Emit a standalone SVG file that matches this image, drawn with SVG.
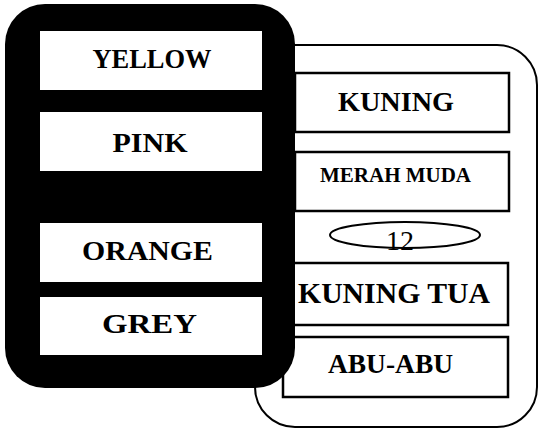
<svg xmlns="http://www.w3.org/2000/svg" width="539" height="429" viewBox="0 0 539 429">
<style>
.t{font-family:"Liberation Serif","Times New Roman",serif;font-weight:bold;fill:#000;text-anchor:middle}
.box{fill:#fff;stroke:#000;stroke-width:2.5}
.wbox{fill:#fff;stroke:none}
</style>
<rect width="539" height="429" fill="#fff"/>
<g id="panel-right">
<rect x="255" y="45" width="282" height="382" rx="40" ry="40" fill="#fff" stroke="#000" stroke-width="2"/>
</g>
<g id="kuning"><rect class="box" x="295" y="73" width="214" height="59"/><text class="t" x="396" y="111" font-size="28" textLength="116" lengthAdjust="spacingAndGlyphs">KUNING</text></g>
<g id="merah-muda"><rect class="box" x="295" y="152" width="214" height="59"/><text class="t" x="395.5" y="182" font-size="21" textLength="151" lengthAdjust="spacingAndGlyphs">MERAH MUDA</text></g>
<g id="num-12"><ellipse cx="405" cy="235" rx="75" ry="13" fill="#fff" stroke="#000" stroke-width="2"/><text x="400" y="250" font-family="Liberation Serif, Times New Roman, serif" font-size="28" text-anchor="middle">12</text></g>
<g id="kuning-tua"><rect class="box" x="293" y="263" width="215" height="62"/><text class="t" x="394" y="303" font-size="30" textLength="192" lengthAdjust="spacingAndGlyphs">KUNING TUA</text></g>
<g id="abu-abu"><rect class="box" x="283" y="337" width="225" height="60"/><text class="t" x="390.5" y="373" font-size="28" textLength="125" lengthAdjust="spacingAndGlyphs">ABU-ABU</text></g>
<g id="panel-left">
<rect x="5" y="4" width="290" height="384" rx="40" ry="40" fill="#000"/>
</g>
<g id="yellow"><rect class="wbox" x="40" y="31" width="222" height="59"/><text class="t" x="152" y="68" font-size="27" textLength="119" lengthAdjust="spacingAndGlyphs">YELLOW</text></g>
<g id="pink"><rect class="wbox" x="40" y="112" width="222" height="59"/><text class="t" x="150" y="152" font-size="28" textLength="75" lengthAdjust="spacingAndGlyphs">PINK</text></g>
<g id="orange"><rect class="wbox" x="40" y="223" width="222" height="59"/><text class="t" x="147.5" y="260" font-size="28" textLength="131" lengthAdjust="spacingAndGlyphs">ORANGE</text></g>
<g id="grey"><rect class="wbox" x="40" y="297" width="222" height="58"/><text class="t" x="149.5" y="333" font-size="28" textLength="95" lengthAdjust="spacingAndGlyphs">GREY</text></g>
<g id="connectors"></g>
</svg>
